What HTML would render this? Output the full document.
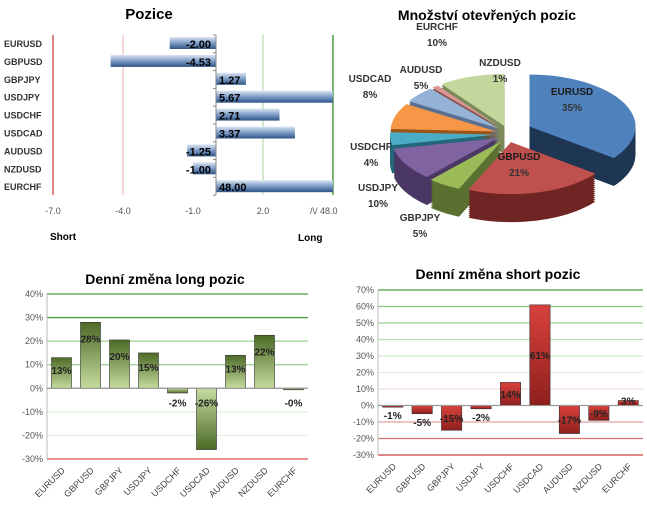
<!DOCTYPE html>
<html><head><meta charset="utf-8"><style>
body{margin:0;background:#fff;font-family:"Liberation Sans",sans-serif}
svg text{font-family:"Liberation Sans",sans-serif}
</style></head><body>
<svg id="s" width="647" height="507" viewBox="0 0 647 507">
<defs>
<linearGradient id="hb" x1="0" y1="0" x2="0" y2="1"><stop offset="0" stop-color="#dde6f2"/><stop offset="0.5" stop-color="#7d9cc6"/><stop offset="1" stop-color="#2f5486"/></linearGradient>
<linearGradient id="gl" x1="0" y1="0" x2="0" y2="1"><stop offset="0" stop-color="#4d6a26"/><stop offset="1" stop-color="#c5dc9e"/></linearGradient>
<linearGradient id="gln" x1="0" y1="0" x2="0" y2="1"><stop offset="0" stop-color="#c5dc9e"/><stop offset="1" stop-color="#4d6a26"/></linearGradient>
<linearGradient id="rs" x1="0" y1="0" x2="0" y2="1"><stop offset="0" stop-color="#d9423d"/><stop offset="1" stop-color="#8e1f1c"/></linearGradient>
</defs>
<g id="c1">
<text x="149" y="19" font-size="15" font-weight="bold" text-anchor="middle">Pozice</text>
<text x="50" y="240" font-size="10" font-weight="bold">Short</text>
<text x="298" y="241" font-size="10" font-weight="bold">Long</text>
</g>
<g id="c2">
<text x="487" y="20" font-size="14" font-weight="bold" text-anchor="middle">Množství otevřených pozic</text>
</g>
<g id="c3">
<text x="165" y="284" font-size="14" font-weight="bold" text-anchor="middle">Denní změna long pozic</text>
</g>
<g id="c4">
<text x="498" y="279" font-size="14" font-weight="bold" text-anchor="middle">Denní změna short pozic</text>
</g>
</svg>
<script>
const NS='http://www.w3.org/2000/svg';
function mk(p,t,a,txt){const e=document.createElementNS(NS,t);for(const k in a)e.setAttribute(k,a[k]);if(txt!==undefined)e.textContent=txt;p.appendChild(e);return e;}
const pairs=['EURUSD','GBPUSD','GBPJPY','USDJPY','USDCHF','USDCAD','AUDUSD','NZDUSD','EURCHF'];
const posValues=[-2.00,-4.53,1.27,5.67,2.71,3.37,-1.25,-1.00,48.00];
const posTicks=['-7.0','-4.0','-1.0','2.0'];
const posTickVals=[-7,-4,-1,2];
const pieLabels=['EURUSD','GBPUSD','GBPJPY','USDJPY','USDCHF','USDCAD','AUDUSD','NZDUSD','EURCHF'];
const pieValues=[35,21,5,10,4,8,5,1,10];
const longValues=[13,28,20.5,15,-2,-26,14,22.5,-0.3];
const longText=['13%','28%','20%','15%','-2%','-26%','13%','22%','-0%'];
const longTicks=[40,30,20,10,0,-10,-20,-30];
const shortValues=[-1,-5,-15,-2,14,61,-17,-9,3];
const shortText=['-1%','-5%','-15%','-2%','14%','61%','-17%','-9%','3%'];
const shortTicks=[70,60,50,40,30,20,10,0,-10,-20,-30];

// chart 1
(function(){
const g=document.getElementById('c1');
const x=v=>216.3+Math.max(-7,Math.min(5,v))*23.33;
const y=i=>43+i*17.9;
const lines=[[-7,'#d06060',1.5],[-4,'#e8b0b0',1],[2,'#a8d0a0',1],[5,'#4a9a40',1.5]];
lines.forEach(l=>{const e=mk(g,'line',{x1:x(l[0]),x2:x(l[0]),y1:35,y2:195,stroke:l[1],'stroke-width':l[2]});
});
posTickVals.forEach((v,i)=>{const t=mk(g,'text',{x:x(v),y:214,'font-size':9,fill:'#555','text-anchor':'middle'},posTicks[i]);
});
const br=mk(g,'text',{x:310,y:214,'font-size':9,fill:'#555'},'/\\/ 48.0');

posValues.forEach((v,i)=>{
const x0=x(0),x1=x(v);
const r=mk(g,'rect',{x:Math.min(x0,x1),y:y(i)-6,width:Math.abs(x1-x0),height:12,fill:'url(#hb)'});

const lb=mk(g,'text',{x:4,y:y(i)+4,'font-size':9,'font-weight':'bold',fill:'#333'},pairs[i]);

const vt=v<0?mk(g,'text',{x:211,y:y(i)+5,'font-size':11,'font-weight':'bold','text-anchor':'end'},v.toFixed(2)):mk(g,'text',{x:219,y:y(i)+5,'font-size':11,'font-weight':'bold'},v.toFixed(2));

});
const ax=mk(g,'line',{x1:216,x2:216,y1:35,y2:195,stroke:'#888'});

for(let i=0;i<=9;i++){const tk=mk(g,'line',{x1:213,x2:216,y1:35+i*17.8,y2:35+i*17.8,stroke:'#888'});}
})();

// chart 2 pie
(function(){
const g=document.getElementById('c2');
const cx=508,cy=134,rx=106,ry=52,depth=28;
const cols=['#4f81bd','#c0504d','#9bbb59','#8064a2','#4bacc6','#f79646','#95b3d7','#d99694','#c3d69b'];
const dark=['#1f3653','#6e2523','#5a7030','#4a3763','#24667a','#9a5419','#5a7090','#8a5553','#7a8a5a'];
const tot=pieValues.reduce((a,b)=>a+b,0);
let a=0;const sl=[];
pieValues.forEach((v,i)=>{const a0=a,a1=a+v/tot*Math.PI*2;a=a1;sl.push([a0,a1]);});
function path(a0,a1,ox,oy){const pt=t=>[cx+ox+rx*Math.sin(t),cy+oy-ry*Math.cos(t)];
let d='M'+(cx+ox)+','+(cy+oy);const n=30;for(let k=0;k<=n;k++){const p=pt(a0+(a1-a0)*k/n);d+=' L'+p[0].toFixed(1)+','+p[1].toFixed(1);}return d+' Z';}
const off=sl.map((s,i)=>{const m=(s[0]+s[1])/2,e=i==0?24:12;return [e*Math.sin(m),-e*0.7*Math.cos(m)];});
for(let dz=depth;dz>0;dz-=2){sl.forEach((s,i)=>{const p=mk(g,'path',{d:path(s[0],s[1],off[i][0],off[i][1]+dz),fill:dark[i]});
});}
sl.forEach((s,i)=>{const p=mk(g,'path',{d:path(s[0],s[1],off[i][0],off[i][1]),fill:cols[i]});
});
const pos=[[572,95],[519,160],[420,221],[378,191],[371,150],[370,82],[421,73],[500,66],[437,30]];
pieLabels.forEach((l,i)=>{const t=mk(g,'text',{x:pos[i][0],y:pos[i][1],'font-size':10,'font-weight':'bold','text-anchor':'middle',fill:i<2?'#1a1a1a':'#333'},l);

const p=mk(g,'text',{x:pos[i][0],y:pos[i][1]+16,'font-size':10,'font-weight':'bold','text-anchor':'middle',fill:'#333'},pieValues[i]+'%');
});
})();

// column charts
function col(gid,vals,txt,ticks,vmax,vmin,ytop,ybot,xl,xr,grid,pos,neg,mode){
const g=document.getElementById(gid);
const y=v=>ytop+(vmax-v)/(vmax-vmin)*(ybot-ytop);
const step=(xr-xl)/vals.length;
ticks.forEach((t,i)=>{const ln=mk(g,'line',{x1:xl,x2:xr,y1:y(t),y2:y(t),stroke:grid[i],'stroke-width':1.3});

const tx=mk(g,'text',{x:xl-4,y:y(t)+3,'font-size':9,fill:'#555','text-anchor':'end'},t+'%');
});
const ax=mk(g,'line',{x1:xl,x2:xl,y1:ytop,y2:ybot,stroke:'#bbb'});

vals.forEach((v,i)=>{const c=xl+step*(i+0.5),w=step*0.69;
const y0=y(0),y1=y(v);
const r=mk(g,'rect',{x:c-w/2,y:Math.min(y0,y1),width:w,height:Math.max(1.5,Math.abs(y1-y0)),fill:v>=0?pos:neg,stroke:'#333','stroke-width':0.6});

let ly;
if(mode==='top'){ly=v>=0?y1+Math.min(16,Math.abs(y1-y0)*0.4)+4:y0+18;}
else ly=Math.abs(y1-y0)<14?(v>=0?y1+4:y1+12):(y0+y1)/2+4;
const t=mk(g,'text',{x:c,y:ly,'font-size':10,'font-weight':'bold','text-anchor':'middle',fill:'#222'},txt[i]);

const cl=mk(g,'text',{x:c+4,y:ybot+12,'font-size':9,fill:'#444','text-anchor':'end',transform:'rotate(-45 '+(c+4)+' '+(ybot+12)+')'},pairs[i]);
});
const z=mk(g,'line',{x1:xl,x2:xr,y1:y(0),y2:y(0),stroke:'#999'});

}
col('c3',longValues,longText,longTicks,40,-30,294,459,47,308,
['#4aa040','#4aa040','#9ad090','#9ad090','#999','#dcefd8','#e8f2e6','#d05050'],'url(#gl)','url(#gln)','top');
col('c4',shortValues,shortText,shortTicks,70,-30,290,455,378,643,
['#4aa040','#8cc880','#9ad090','#b8e0b0','#cfe9ca','#e0f0dc','#f3dcdc','#999','#e2a0a0','#d87070','#c84040'],'url(#rs)','url(#rs)','mid');
</script>
</body></html>
